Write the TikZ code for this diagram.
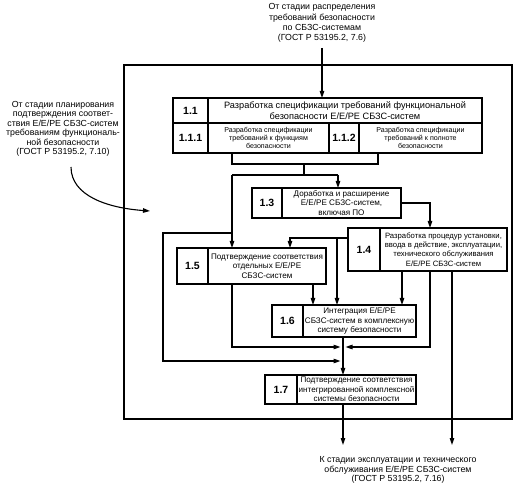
\documentclass[tikz,border=0pt]{standalone}
\usepackage{fontspec}
\setmainfont{Liberation Sans}
\usetikzlibrary{arrows.meta,calc}
\begin{document}
\begin{tikzpicture}[x=1pt,y=-1pt,
  every node/.style={inner sep=0pt, outer sep=0pt},
  cell/.style={draw, line width=1.3pt, anchor=north west, align=center},
  num/.style={cell, font=\fontsize{10.5}{11}\selectfont\bfseries},
  txt/.style={cell, font=\fontsize{8.1}{9.4}\selectfont},
  small/.style={font=\fontsize{7.1}{8}\selectfont},
  outer/.style={align=center, font=\fontsize{8.8}{10.2}\selectfont},
  line/.style={line width=1.1pt},
  arr/.style={line, -{Triangle[length=7pt,width=4.5pt]}},
]
\useasboundingbox (0,0) rectangle (520,489);

% outer frame
\node[draw, line width=1.5pt, anchor=north west, minimum width=388, minimum height=354] (frame) at (124,65) {};

% texts outside
\node[outer] (toptext) at (322,23) {От стадии распределения\\требований безопасности\\по СБЗС-системам\\(ГОСТ Р 53195.2, 7.6)};
\node[outer, font=\fontsize{8.8}{9.5}\selectfont] (lefttext) at (63,129) {От стадии планирования\\подтверждения соответ-\\ствия Е/Е/РЕ СБЗС-систем\\требованиям функциональ-\\ной безопасности\\(ГОСТ Р 53195.2, 7.10)};
\node[outer, font=\fontsize{8.8}{9.8}\selectfont] (bottext) at (398,470) {К стадии эксплуатации и технического\\обслуживания Е/Е/РЕ СБЗС-систем\\(ГОСТ Р 53195.2, 7.16)};

% box 1.1
\node[num, minimum width=35, minimum height=25] (n11) at (173,98) {1.1};
\node[txt, minimum width=274, minimum height=25, font=\fontsize{9.2}{10.4}\selectfont] (t11) at (208,98) {Разработка спецификации требований функциональной\\безопасности Е/Е/РЕ СБЗС-систем};
\node[num, minimum width=35, minimum height=30] (n111) at (173,123) {1.1.1};
\node[txt, small, minimum width=121, minimum height=30] (t111) at (208,123) {Разработка спецификации\\требований к функциям\\безопасности};
\node[num, minimum width=30, minimum height=30] (n112) at (329,123) {1.1.2};
\node[txt, small, minimum width=123, minimum height=30] (t112) at (359,123) {Разработка спецификации\\требований к полноте\\безопасности};

% box 1.3
\node[num, minimum width=30, minimum height=30] (n13) at (252,188) {1.3};
\node[txt, minimum width=119, minimum height=30] (t13) at (282,188) {Доработка и расширение\\Е/Е/РЕ СБЗС-систем,\\включая ПО};
% box 1.4
\node[num, minimum width=32, minimum height=43] (n14) at (348,228) {1.4};
\node[txt, minimum width=127, minimum height=43, font=\fontsize{7.7}{9.2}\selectfont] (t14) at (380,228) {Разработка процедур установки,\\ввода в действие, эксплуатации,\\технического обслуживания\\Е/Е/РЕ СБЗС-систем};
% box 1.5
\node[num, minimum width=31, minimum height=36] (n15) at (177,248) {1.5};
\node[txt, minimum width=118, minimum height=36] (t15) at (208,248) {Подтверждение соответствия\\отдельных Е/Е/РЕ\\СБЗС-систем};
% box 1.6
\node[num, minimum width=31, minimum height=32] (n16) at (272,305) {1.6};
\node[txt, minimum width=113, minimum height=32] (t16) at (303,305) {Интеграция Е/Е/РЕ\\СБЗС-систем в комплексную\\систему безопасности};
% box 1.7
\node[num, minimum width=32, minimum height=29] (n17) at (265,375) {1.7};
\node[txt, minimum width=119, minimum height=29] (t17) at (297,375) {Подтверждение соответствия\\интегрированной комплексной\\системы безопасности};

% coordinates
\coordinate (topin) at (322,48);
\coordinate (leftin) at (71,167);
\coordinate (leftend) at (150,211);
\coordinate (bl) at (232,164);
\coordinate (br) at (378,164);
\coordinate (bm) at (304,164);
\coordinate (sm) at (304,175);
\coordinate (sl) at (232,175);
\coordinate (sr) at (338,175);
\coordinate (ll1) at (232,233);
\coordinate (ll2) at (163,233);
\coordinate (ll3) at (163,361);
\coordinate (jll) at (340.5,361);
\coordinate (c34) at (430,203);
\coordinate (c45) at (290,238);
\coordinate (c46) at (337,238);
\coordinate (c56) at (313,290);
\coordinate (c5j) at (232,347);
\coordinate (jl) at (340.5,347);
\coordinate (c416) at (402,290);
\coordinate (c4j) at (430,347);
\coordinate (jr) at (345.5,347);
\coordinate (c4o) at (452,445);
\coordinate (jx) at (343,340);
\coordinate (c7o) at (343,445);

% connectors
\draw[arr] (topin) -- (topin |- t11.north);
\draw[arr] (leftin) .. controls (71,196) and (108,208) .. (leftend);
\draw[line] (t111.south -| bl) -- (bl) -- (br) -- (t112.south -| br);
\draw[line] (bm) -- (sm);
\draw[line] (sl) -- (sr);
\draw[arr] (sr) -- (sr |- t13.north);
\draw[arr] (sl) -- (sl |- t15.north);
\draw[arr] (ll1) -- (ll2) -- (ll3) -- (jll);
\draw[arr] (t13.east) -- (c34) -- (c34 |- t14.north);
\draw[arr] (n14.west |- c45) -- (c45) -- (c45 |- t15.north);
\draw[arr] (c46) -- (c46 |- t16.north);
\draw[arr] (t15.south -| c56) -- (c56 |- t16.north);
\draw[arr] (t15.south -| c5j) -- (c5j) -- (jl);
\draw[arr] (t14.south -| c416) -- (c416 |- t16.north);
\draw[arr] (t14.south -| c4j) -- (c4j) -- (jr);
\draw[arr] (t14.south -| c4o) -- (c4o);
\draw[arr] (t16.south -| jx) -- (jx |- t17.north);
\draw[arr] (t17.south -| c7o) -- (c7o);
\end{tikzpicture}
\end{document}
